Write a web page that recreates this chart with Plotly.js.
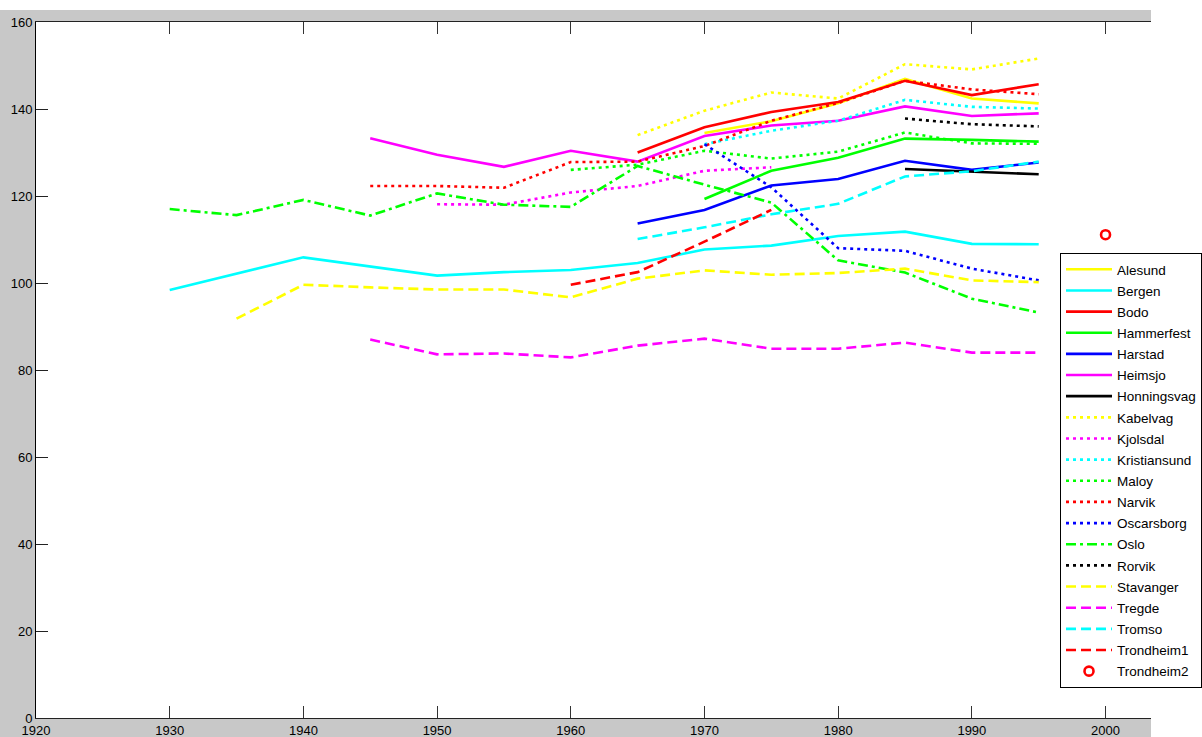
<!DOCTYPE html>
<html>
<head>
<meta charset="utf-8">
<script src="https://cdn.plot.ly/plotly-3.0.1.min.js"></script>
<style>html,body{margin:0;padding:0;background:#fff;}#chart{width:1202px;height:737px;}</style>
</head>
<body>
<div id="chart"></div>
<script>
// ---- data ----
const alesundYears = [1970, 1975, 1980, 1985, 1990, 1995];
const alesund = [134.5, 137.2, 141.3, 146.9, 142.4, 141.3];

const bergenYears = [1930, 1940, 1950, 1955, 1960, 1965, 1970, 1975, 1980, 1985, 1990, 1995];
const bergen = [98.4, 105.9, 101.7, 102.5, 103.0, 104.6, 107.7, 108.6, 110.8, 111.8, 109.0, 108.9];

const bodoYears = [1965, 1970, 1975, 1980, 1985, 1990, 1995];
const bodo = [130.0, 135.8, 139.3, 141.6, 146.5, 143.2, 145.7];

const hammerfestYears = [1970, 1975, 1980, 1985, 1990, 1995];
const hammerfest = [119.3, 125.8, 128.8, 133.2, 132.9, 132.5];

const harstadYears = [1965, 1970, 1975, 1980, 1985, 1990, 1995];
const harstad = [113.7, 116.8, 122.4, 123.9, 128.1, 126.0, 127.7];

const heimsjoYears = [1945, 1950, 1955, 1960, 1965, 1970, 1975, 1980, 1985, 1990, 1995];
const heimsjo = [133.3, 129.5, 126.7, 130.4, 127.9, 133.8, 136.2, 137.3, 140.6, 138.4, 139.0];

const honningsvagYears = [1985, 1990, 1995];
const honningsvag = [126.2, 125.6, 125.0];

const kabelvagYears = [1965, 1970, 1975, 1980, 1985, 1990, 1995];
const kabelvag = [134.0, 139.6, 143.8, 142.4, 150.3, 149.1, 151.6];

const kjolsdalYears = [1950, 1955, 1960, 1965, 1970, 1975];
const kjolsdal = [118.1, 118.0, 120.8, 122.3, 125.8, 126.6];

const kristiansundYears = [1970, 1975, 1980, 1985, 1990, 1995];
const kristiansund = [131.9, 135.0, 137.3, 142.1, 140.5, 140.1];

const maloyYears = [1960, 1965, 1970, 1975, 1980, 1985, 1990, 1995];
const maloy = [126.0, 127.2, 130.4, 128.6, 130.2, 134.6, 132.1, 132.0];

const narvikYears = [1945, 1950, 1955, 1960, 1965, 1970, 1975, 1980, 1985, 1990, 1995];
const narvik = [122.3, 122.3, 121.9, 127.8, 127.9, 131.5, 137.3, 141.4, 146.5, 144.5, 143.4];

const oscarsborgYears = [1970, 1975, 1980, 1985, 1990, 1995];
const oscarsborg = [131.9, 122.0, 108.0, 107.4, 103.3, 100.6];

const osloYears = [1930, 1935, 1940, 1945, 1950, 1955, 1960, 1965, 1970, 1975, 1980, 1985, 1990, 1995];
const oslo = [117.0, 115.6, 119.1, 115.5, 120.6, 118.0, 117.5, 126.9, 122.6, 118.5, 105.2, 102.4, 96.4, 93.2];

const rorvikYears = [1985, 1990, 1995];
const rorvik = [137.8, 136.5, 136.0];

const stavangerYears = [1935, 1940, 1945, 1950, 1955, 1960, 1965, 1970, 1975, 1980, 1985, 1990, 1995];
const stavanger = [91.8, 99.6, 99.0, 98.5, 98.5, 96.7, 101.0, 102.9, 101.9, 102.3, 103.3, 100.6, 100.2];

const tregdeYears = [1945, 1950, 1955, 1960, 1965, 1970, 1975, 1980, 1985, 1990, 1995];
const tregde = [87.0, 83.6, 83.8, 82.9, 85.6, 87.2, 84.9, 84.9, 86.3, 84.0, 84.0];

const tromsoYears = [1965, 1970, 1975, 1980, 1985, 1990, 1995];
const tromso = [110.1, 112.8, 115.8, 118.2, 124.5, 125.7, 127.9];

const trondheim1Years = [1960, 1965, 1970, 1975];
const trondheim1 = [99.6, 102.5, 109.5, 116.8];

const trondheim2Years = [2000];
const trondheim2 = [111.1];

const xTicks = [1920, 1930, 1940, 1950, 1960, 1970, 1980, 1990, 2000];
const yTicks = [0, 20, 40, 60, 80, 100, 120, 140, 160];

// ---- styles ----
const YEL = '#ffff00', CYA = '#00ffff', RED = '#ff0000', GRN = '#00ff00',
      BLU = '#0000ff', MAG = '#ff00ff', BLK = '#000000';
const SOLID = 'solid', DOT = '3px,4px', DASH = '10px,5px', DASHDOT = '10px,4px,3px,4px';

const series = [
  ['Alesund', alesundYears, alesund, YEL, SOLID],
  ['Bergen', bergenYears, bergen, CYA, SOLID],
  ['Bodo', bodoYears, bodo, RED, SOLID],
  ['Hammerfest', hammerfestYears, hammerfest, GRN, SOLID],
  ['Harstad', harstadYears, harstad, BLU, SOLID],
  ['Heimsjo', heimsjoYears, heimsjo, MAG, SOLID],
  ['Honningsvag', honningsvagYears, honningsvag, BLK, SOLID],
  ['Kabelvag', kabelvagYears, kabelvag, YEL, DOT],
  ['Kjolsdal', kjolsdalYears, kjolsdal, MAG, DOT],
  ['Kristiansund', kristiansundYears, kristiansund, CYA, DOT],
  ['Maloy', maloyYears, maloy, GRN, DOT],
  ['Narvik', narvikYears, narvik, RED, DOT],
  ['Oscarsborg', oscarsborgYears, oscarsborg, BLU, DOT],
  ['Oslo', osloYears, oslo, GRN, DASHDOT],
  ['Rorvik', rorvikYears, rorvik, BLK, DOT],
  ['Stavanger', stavangerYears, stavanger, YEL, DASH],
  ['Tregde', tregdeYears, tregde, MAG, DASH],
  ['Tromso', tromsoYears, tromso, CYA, DASH],
  ['Trondheim1', trondheim1Years, trondheim1, RED, DASH]
];

const traces = series.map(([name, x, y, color, dash]) => ({
  type: 'scatter', mode: 'lines', name: name, legendgroup: name,
  x: x, y: y,
  line: {color: color, width: 2.6, dash: dash}
}));
traces.push({
  type: 'scatter', mode: 'markers', name: 'Trondheim2', legendgroup: 'Trondheim2',
  x: trondheim2Years, y: trondheim2,
  marker: {symbol: 'circle-open', size: 9, color: RED, line: {color: RED, width: 2.6}}
});

const FONT = 'Liberation Sans, Arial, sans-serif';
const L = 36, R = 51, T = 22, B = 19, W = 1202, H = 737;
const pw = W - L - R, ph = H - T - B;
const px2x = p => (p - L) / pw;
const py2y = p => (H - B - p) / ph;

const layout = {
  width: W, height: H,
  margin: {l: L, r: R, t: T, b: B, pad: 0, autoexpand: false},
  paper_bgcolor: '#c8c8c8',
  plot_bgcolor: '#ffffff',
  font: {family: FONT, size: 13, color: '#000'},
  showlegend: true,
  xaxis: {
    range: [1920, 2003.4], tickvals: xTicks, ticktext: xTicks.map(String),
    ticks: 'inside', ticklen: 12, tickwidth: 1, tickcolor: '#333',
    showline: true, linecolor: '#222', linewidth: 1, mirror: 'ticks',
    showgrid: false, zeroline: false, tickfont: {family: FONT, size: 13, color: '#000'}
  },
  yaxis: {
    range: [0, 160], tickvals: yTicks, ticktext: yTicks.map(String),
    ticks: 'inside', ticklen: 12, tickwidth: 1, tickcolor: '#222',
    showline: true, linecolor: '#000', linewidth: 1,
    showgrid: false, zeroline: false, tickfont: {family: FONT, size: 13, color: '#000'}
  },
  legend: {
    x: px2x(1060), y: py2y(253), xanchor: 'left', yanchor: 'top',
    bgcolor: '#ffffff', bordercolor: '#000', borderwidth: 1,
    font: {family: FONT, size: 13.5, color: '#000'},
    tracegroupgap: 0.6, itemwidth: 46
  },
  shapes: [
    {type: 'rect', xref: 'paper', yref: 'paper', layer: 'below',
     x0: px2x(-5), x1: px2x(W + 5), y0: py2y(10), y1: py2y(-5),
     fillcolor: '#ffffff', line: {width: 0}},
    {type: 'rect', xref: 'paper', yref: 'paper', layer: 'below',
     x0: px2x(1151), x1: px2x(W + 5), y0: py2y(H + 5), y1: py2y(-5),
     fillcolor: '#ffffff', line: {width: 0}}
  ]
};

Plotly.newPlot('chart', traces, layout, {displayModeBar: false, staticPlot: true});
</script>
</body>
</html>
